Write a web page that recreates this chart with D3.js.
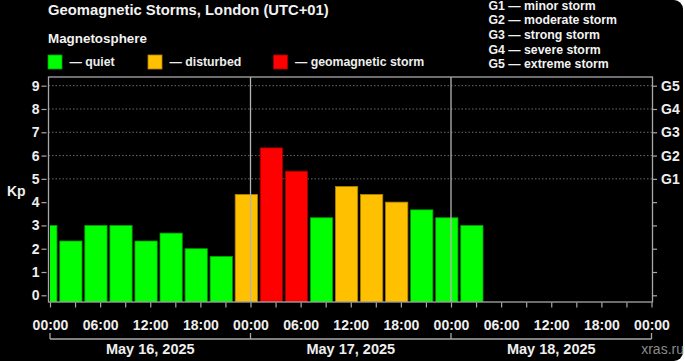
<!DOCTYPE html>
<html>
<head>
<meta charset="utf-8">
<script src="https://cdn.jsdelivr.net/npm/d3@7"></script>
<style>
  html, body { margin: 0; padding: 0; background: #ffffff; }
  svg { display: block; }
  text { font-family: "Liberation Sans", Arial, sans-serif; }
</style>
</head>
<body>
<svg id="chart" width="685" height="361"></svg>
<script>
// ---- data ----
const titleText = "Geomagnetic Storms, London (UTC+01)";
const periodStartsUTC = [
  "2025-05-15T21:00:00Z", "2025-05-16T00:00:00Z", "2025-05-16T03:00:00Z", "2025-05-16T06:00:00Z",
  "2025-05-16T09:00:00Z", "2025-05-16T12:00:00Z", "2025-05-16T15:00:00Z", "2025-05-16T18:00:00Z",
  "2025-05-16T21:00:00Z", "2025-05-17T00:00:00Z", "2025-05-17T03:00:00Z", "2025-05-17T06:00:00Z",
  "2025-05-17T09:00:00Z", "2025-05-17T12:00:00Z", "2025-05-17T15:00:00Z", "2025-05-17T18:00:00Z",
  "2025-05-17T21:00:00Z", "2025-05-18T00:00:00Z"
];
const kpValues = [3, 2.33, 3, 3, 2.33, 2.67, 2, 1.67, 4.33, 6.33, 5.33, 3.33, 4.67, 4.33, 4, 3.67, 3.33, 3];
const kpTicks = [0, 1, 2, 3, 4, 5, 6, 7, 8, 9];
const gTicks = [5, 6, 7, 8, 9];
const gLabels = ["G1", "G2", "G3", "G4", "G5"];
const gNames = ["minor storm", "moderate storm", "strong storm", "severe storm", "extreme storm"];
const hourLabels = ["00:00", "06:00", "12:00", "18:00"];
const dayLabels = ["May 16, 2025", "May 17, 2025", "May 18, 2025"];
const legendNames = ["quiet", "disturbed", "geomagnetic storm"];
const legendColors = ["#00ff00", "#ffc000", "#ff0000"];
const legendStrokes = ["#00a000", "#b08000", "#a00000"];
const tzOffsetHours = 1;

// ---- layout ----
const svg = d3.select("#chart");
const W = 685, H = 361;
const frame = { left: 48.5, right: 652.5, top: 77, bottom: 302 };

// background (black card with rounded right corners)
svg.append("rect").attr("x", -20).attr("y", 0).attr("width", 703).attr("height", H)
  .attr("rx", 9).attr("fill", "#000");

// local time helper: shift UTC by offset, treat as "local"
const toLocal = s => new Date(new Date(s).getTime() + tzOffsetHours * 3600e3);
const start = new Date(Date.UTC(2025, 4, 16, 0, 0));
const end = new Date(Date.UTC(2025, 4, 19, 0, 0));

const x = d3.scaleUtc().domain([start, end]).range([50, 651.5]);
const y = d3.scaleLinear().domain([0, 9]).range([295.3, 85.7]);

const colorFor = v => v >= 5 ? 2 : (v >= 4 ? 1 : 0);

// grid lines (dotted) for G levels
svg.append("g").selectAll("line").data(gTicks).join("line")
  .attr("x1", frame.left).attr("x2", frame.right)
  .attr("y1", d => y(d)).attr("y2", d => y(d))
  .attr("stroke", "#6a6a6a").attr("stroke-width", 1).attr("stroke-dasharray", "1.5,2");

// clip for bars
svg.append("clipPath").attr("id", "plotclip").append("rect")
  .attr("x", x(start)).attr("y", frame.top).attr("width", x(end) - x(start)).attr("height", frame.bottom - frame.top);

// bars
const bars = periodStartsUTC.map((s, i) => {
  const t0 = toLocal(s);
  const t1 = new Date(t0.getTime() + 3 * 3600e3);
  return { t0, t1, v: kpValues[i] };
});
svg.append("g").attr("clip-path", "url(#plotclip)").selectAll("rect").data(bars).join("rect")
  .attr("x", d => x(d.t0) + 1.4)
  .attr("width", d => x(d.t1) - x(d.t0) - 2.8)
  .attr("y", d => y(d.v))
  .attr("height", d => frame.bottom - y(d.v))
  .attr("fill", d => legendColors[colorFor(d.v)])
  .attr("stroke", d => legendStrokes[colorFor(d.v)])
  .attr("stroke-width", 0.8);

// day separator lines
const dayBounds = d3.utcDay.range(start, end).slice(1);
svg.append("g").selectAll("line").data(dayBounds).join("line")
  .attr("x1", d => x(d)).attr("x2", d => x(d))
  .attr("y1", frame.top).attr("y2", frame.bottom)
  .attr("stroke", "#b4b4b4").attr("stroke-width", 1.3);

// frame
svg.append("rect").attr("x", frame.left).attr("y", frame.top)
  .attr("width", frame.right - frame.left).attr("height", frame.bottom - frame.top)
  .attr("fill", "none").attr("stroke", "#a8a8a8").attr("stroke-width", 1.3);

// left axis
const leftAxis = d3.axisLeft(y).tickValues(kpTicks).tickSize(5).tickPadding(2).tickFormat(d3.format("d"));
const gl = svg.append("g").attr("transform", `translate(${frame.left - 2},0)`).call(leftAxis);
gl.select(".domain").remove();
gl.selectAll(".tick line").attr("stroke", "#a8a8a8").attr("stroke-width", 1.2);
gl.selectAll(".tick text").attr("fill", "#eeeeee").attr("font-size", 14).attr("font-weight", "bold")
  .attr("font-family", "Liberation Sans, Arial, sans-serif");

// right axis
const rightAxis = d3.axisRight(y).tickValues(kpTicks).tickSize(4).tickPadding(4)
  .tickFormat(d => { const i = gTicks.indexOf(d); return i >= 0 ? gLabels[i] : ""; });
const gr = svg.append("g").attr("transform", `translate(${frame.right + 0.5},0)`).call(rightAxis);
gr.select(".domain").remove();
gr.selectAll(".tick line").attr("stroke", "#a8a8a8").attr("stroke-width", 1.2);
gr.selectAll(".tick text").attr("fill", "#eeeeee").attr("font-size", 14).attr("font-weight", "bold")
  .attr("font-family", "Liberation Sans, Arial, sans-serif");

// bottom axis ticks (every 3h) and labels (every 6h)
const bottomAxis = d3.axisBottom(x).ticks(d3.utcHour.every(3)).tickSize(5).tickPadding(9)
  .tickFormat(d => d.getUTCHours() % 6 === 0 ? hourLabels[d.getUTCHours() / 6] : "");
const gb = svg.append("g").attr("transform", `translate(0,${frame.bottom + 0.5})`).call(bottomAxis);
gb.select(".domain").remove();
gb.selectAll(".tick line").attr("stroke", "#a8a8a8").attr("stroke-width", 1.2);
gb.selectAll(".tick text").attr("fill", "#eeeeee").attr("font-size", 14).attr("font-weight", "bold")
  .attr("font-family", "Liberation Sans, Arial, sans-serif").attr("dy", "0.95em");

// date bracket
const allDays = d3.utcDay.range(start, d3.utcDay.offset(end, 1));
const bracketY = 339;
svg.append("line").attr("x1", x(start)).attr("x2", x(end)).attr("y1", bracketY).attr("y2", bracketY)
  .attr("stroke", "#a8a8a8").attr("stroke-width", 1.3);
svg.append("g").selectAll("line").data(allDays).join("line")
  .attr("x1", d => x(d)).attr("x2", d => x(d)).attr("y1", bracketY - 6).attr("y2", bracketY)
  .attr("stroke", "#a8a8a8").attr("stroke-width", 1.3);
svg.append("g").selectAll("text").data(dayLabels).join("text")
  .attr("x", (d, i) => (x(d3.utcDay.offset(start, i)) + x(d3.utcDay.offset(start, i + 1))) / 2)
  .attr("y", 354).attr("text-anchor", "middle")
  .attr("fill", "#eeeeee").attr("font-size", 14.5).attr("font-weight", "bold").text(d => d);

// Kp label
svg.append("text").attr("x", 7).attr("y", 196).attr("fill", "#eeeeee")
  .attr("font-size", 14).attr("font-weight", "bold").text("Kp");

// title
svg.append("text").attr("x", 48).attr("y", 15).attr("fill", "#f2f2f2")
  .attr("font-size", 14.8).attr("font-weight", "bold").text(titleText);
svg.append("text").attr("x", 48).attr("y", 43.3).attr("fill", "#f2f2f2")
  .attr("font-size", 13.4).attr("font-weight", "bold").text("Magnetosphere");

// legend
const legendX = [48, 148, 273.5];
const lg = svg.append("g").selectAll("g").data(legendNames).join("g")
  .attr("transform", (d, i) => `translate(${legendX[i]},55)`);
lg.append("rect").attr("width", 14).attr("height", 14)
  .attr("fill", (d, i) => legendColors[i]).attr("stroke", (d, i) => legendStrokes[i]).attr("stroke-width", 0.8);
lg.append("text").attr("x", 21.5).attr("y", 10.7).attr("fill", "#eeeeee")
  .attr("font-size", 12.3).attr("font-weight", "bold").text(d => "\u2014 " + d);

// G legend
svg.append("g").selectAll("text").data(gLabels).join("text")
  .attr("x", 488.5).attr("y", (d, i) => 9.5 + i * 14.7)
  .attr("fill", "#f2f2f2").attr("font-size", 12.3).attr("font-weight", "bold")
  .text((d, i) => d + " \u2014 " + gNames[i]);

// watermark
svg.append("text").attr("x", 684).attr("y", 353.5).attr("text-anchor", "end")
  .attr("fill", "#8a8a8a").attr("font-size", 14).text("xras.ru");

// white edge at far right
svg.append("rect").attr("x", 683).attr("y", 0).attr("width", 2).attr("height", H).attr("fill", "#fff").attr("opacity", 0);
</script>
</body>
</html>
